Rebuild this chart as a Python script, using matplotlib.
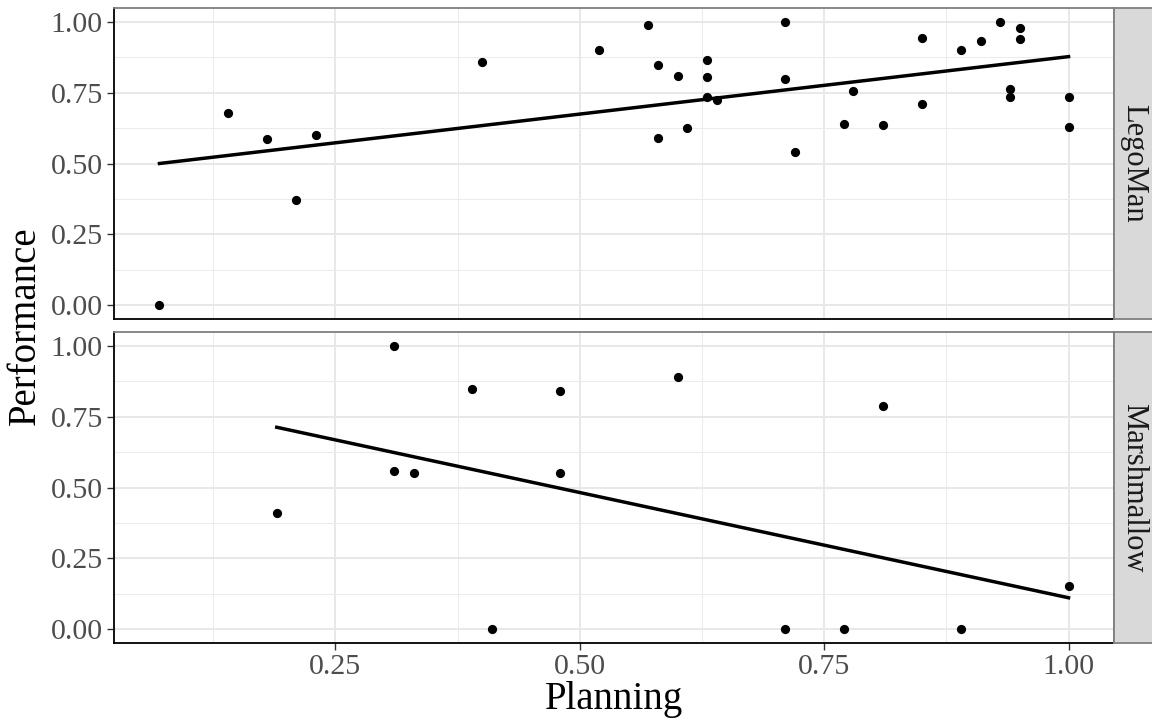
import matplotlib.pyplot as plt

# LegoMan task
lego_planning = [0.07, 0.14, 0.18, 0.21, 0.23, 0.40, 0.52, 0.57, 0.58, 0.58, 0.60, 0.61,
                 0.63, 0.63, 0.63, 0.64, 0.71, 0.71, 0.72, 0.77, 0.78, 0.81, 0.85, 0.85,
                 0.89, 0.91, 0.93, 0.94, 0.94, 0.95, 0.95, 1.00, 1.00]
lego_performance = [0.00, 0.68, 0.585, 0.37, 0.60, 0.86, 0.90, 0.99, 0.85, 0.59, 0.81, 0.625,
                    0.865, 0.805, 0.735, 0.725, 1.00, 0.80, 0.54, 0.64, 0.755, 0.635, 0.945, 0.71,
                    0.90, 0.935, 1.00, 0.765, 0.735, 0.98, 0.94, 0.735, 0.63]
lego_fit_x = [0.07, 1.00]
lego_fit_y = [0.500, 0.878]

# Marshmallow task
marsh_planning = [0.19, 0.31, 0.31, 0.33, 0.39, 0.41, 0.48, 0.48, 0.60, 0.71, 0.77, 0.81,
                  0.89, 1.00]
marsh_performance = [0.41, 1.00, 0.56, 0.55, 0.85, 0.00, 0.84, 0.55, 0.89, 0.00, 0.00, 0.79,
                     0.00, 0.15]
marsh_fit_x = [0.19, 1.00]
marsh_fit_y = [0.713, 0.110]

facets = ["LegoMan", "Marshmallow"]
x_ticks = [0.25, 0.50, 0.75, 1.00]
y_ticks = [0.00, 0.25, 0.50, 0.75, 1.00]

plt.rcParams['font.family'] = ['Liberation Serif', 'DejaVu Serif']

W, H = 1152, 724
fig = plt.figure(figsize=(W / 100, H / 100), dpi=100)


def panel(top, bottom, xs, ys, fx, fy, label, show_x):
    ax = fig.add_axes([114 / W, (H - bottom) / H, 1000 / W, (bottom - top) / H])
    ax.set_xlim(0.0235, 1.0465)
    ax.set_ylim(-0.05, 1.05)
    ax.set_xticks(x_ticks)
    ax.set_yticks(y_ticks)
    ax.set_xticks([0.125, 0.375, 0.625, 0.875], minor=True)
    ax.set_yticks([0.125, 0.375, 0.625, 0.875], minor=True)
    ax.grid(which='major', color='#E8E8E8', lw=1.4)
    ax.grid(which='minor', color='#EBEBEB', lw=0.7)
    ax.set_axisbelow(True)
    ax.tick_params(which='minor', length=0)
    ax.tick_params(which='major', length=5, width=1, color='#333333',
                   labelsize=21.5, labelcolor='#4D4D4D', pad=3)
    ax.set_yticklabels(['%.2f' % v for v in y_ticks])
    if show_x:
        ax.set_xticklabels(['%.2f' % v for v in x_ticks])
    else:
        ax.tick_params(axis='x', length=0, labelbottom=False)
    for s in ['top', 'right']:
        ax.spines[s].set_color('#7F7F7F')
        ax.spines[s].set_linewidth(1.3)
    for s in ['left', 'bottom']:
        ax.spines[s].set_color('black')
        ax.spines[s].set_linewidth(1.3)

    ax.scatter(xs, ys, s=44, color='black', zorder=3, linewidths=0)
    ax.plot(fx, fy, color='black', lw=2.5, zorder=4)

    st = fig.add_axes([1114 / W, (H - bottom) / H, 40 / W, (bottom - top) / H])
    st.set_facecolor('#D9D9D9')
    st.set_xticks([])
    st.set_yticks([])
    for s in st.spines.values():
        s.set_color('#7F7F7F')
        s.set_linewidth(1.3)
    st.text(0.5, 0.5, label, rotation=-90, ha='center', va='center',
            fontsize=22, color='#1A1A1A', transform=st.transAxes)
    return ax


ax1 = panel(8, 319, lego_planning, lego_performance, lego_fit_x, lego_fit_y, facets[0], False)
ax2 = panel(332, 643, marsh_planning, marsh_performance, marsh_fit_x, marsh_fit_y, facets[1], True)

fig.text(614 / W, 1 - 700 / H, "Planning", ha='center', va='center', fontsize=28)
fig.text(25 / W, 1 - 326 / H, "Performance", ha='center', va='center', rotation=90, fontsize=28)

plt.savefig('out.png', dpi=100)
